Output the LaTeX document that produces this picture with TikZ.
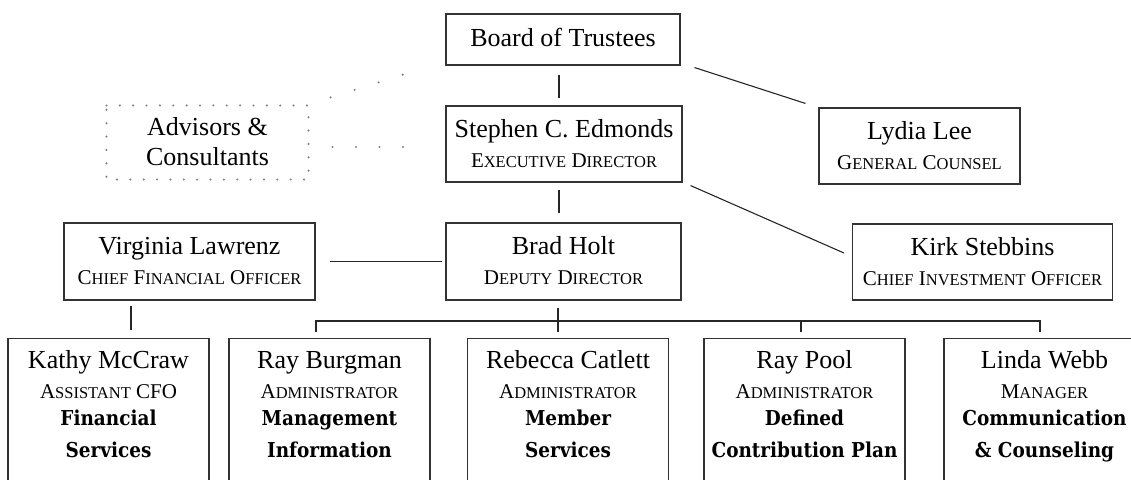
\documentclass[tikz,border=0pt]{standalone}
\usepackage{fontspec}
\setmainfont{Liberation Serif}
\newfontfamily\bff{DejaVu Serif Condensed Bold}
\newcommand\sm[1]{{\fontsize{16.5}{16.5}\selectfont #1}}
\newcommand\ttl{\fontsize{21}{21}\selectfont}
\newcommand\bld{\bff\fontsize{20.5}{20.5}\selectfont}
\begin{document}
\begin{tikzpicture}[x=1pt,y=-1pt,
  box/.style={draw=black!80, line width=1.1pt, inner sep=0pt, align=center,
    font=\fontsize{26}{30}\selectfont},
  onebox/.style={box, text height=18pt, text depth=5pt},
  twobox/.style={box, text height=48pt, text depth=2pt},
  lowbox/.style={box, anchor=north, minimum width=201pt, text height=119pt, text depth=30pt},
  conn/.style={draw=black!85, line width=1.1pt},
  dots/.style={draw=black!50, line width=2.3pt, line cap=round}]
\useasboundingbox (0,0) rectangle (1131,479);

\node[onebox, minimum width=234pt, minimum height=51pt] (board) at (563,39.5) {Board of Trustees};
\node[twobox, minimum width=236pt, minimum height=76pt] (steph) at (564,144)
  {Stephen C. Edmonds\\{\ttl E\sm{XECUTIVE} D\sm{IRECTOR}}};
\node[twobox, minimum width=201pt, minimum height=76pt] (lydia) at (919.5,146)
  {Lydia Lee\\{\ttl G\sm{ENERAL} C\sm{OUNSEL}}};
\node[twobox, draw=none, minimum width=201pt, minimum height=73pt] (adv) at (207.5,142.5)
  {Advisors \&\\Consultants};
\draw[dots, dash pattern=on 0pt off 13.366pt] (adv.north west) -- (adv.north east) -- (adv.south east) -- (adv.south west) -- cycle;

\node[twobox, minimum width=251pt, minimum height=77pt] (virg) at (189.5,261.5)
  {Virginia Lawrenz\\{\ttl C\sm{HIEF} F\sm{INANCIAL} O\sm{FFICER}}};
\node[twobox, minimum width=235pt, minimum height=77pt] (brad) at (563.5,261.5)
  {Brad Holt\\{\ttl D\sm{EPUTY} D\sm{IRECTOR}}};
\node[twobox, minimum width=260pt, minimum height=76pt] (kirk) at (982.5,262)
  {Kirk Stebbins\\{\ttl C\sm{HIEF} I\sm{NVESTMENT} O\sm{FFICER}}};

\node[lowbox] (kathy) at (108.5,338)
  {Kathy McCraw\\{\ttl A\sm{SSISTANT} CFO}\\[-3pt]{\bld Financial}\\[2pt]{\bld Services}};
\node[lowbox] (burg) at (329.5,338)
  {Ray Burgman\\{\ttl A\sm{DMINISTRATOR}}\\[-3pt]{\bld Management}\\[2pt]{\bld Information}};
\node[lowbox] (reb) at (568,338)
  {Rebecca Catlett\\{\ttl A\sm{DMINISTRATOR}}\\[-3pt]{\bld Member}\\[2pt]{\bld Services}};
\node[lowbox] (pool) at (804.5,338)
  {Ray Pool\\{\ttl A\sm{DMINISTRATOR}}\\[-3pt]{\bld Defined}\\[2pt]{\bld Contribution Plan}};
\node[lowbox] (linda) at (1044.5,338)
  {Linda Webb\\{\ttl M\sm{ANAGER}}\\[-3pt]{\bld Communication}\\[2pt]{\bld \& Counseling}};

% connectors
\draw[conn] ([xshift=-4pt,yshift=-9pt]board.south) -- ([xshift=-5pt,yshift=7pt]steph.north);
\draw[conn] ([xshift=14pt,yshift=-2pt]board.south east) -- ([xshift=-13pt,yshift=4pt]lydia.north west);
\draw[conn] ([xshift=-5pt,yshift=-7pt]steph.south) -- ([xshift=-4.5pt,yshift=9pt]brad.north);
\draw[conn] ([xshift=8pt,yshift=-3pt]steph.south east) -- ([xshift=-8pt,yshift=9pt]kirk.west);
\draw[conn] ([xshift=14pt]virg.east) -- ([xshift=-3pt]brad.west);
\draw[conn] ([xshift=-58.5pt,yshift=-5pt]virg.south) -- ([xshift=22.5pt,yshift=8pt]kathy.north);
\draw[conn] ([xshift=-5.5pt,yshift=-7pt]brad.south) -- ([xshift=-10pt,yshift=6pt]reb.north);
\draw[conn] ([xshift=-13.5pt,yshift=6pt]burg.north) -- ++(0,-11) -| ([xshift=-4.5pt,yshift=6pt]linda.north);
\draw[conn] ([xshift=-3.5pt,yshift=6pt]pool.north) -- ++(0,-11);

% dotted links
\draw[dots, dash pattern=on 0pt off 23.5pt] ([xshift=24pt,yshift=-4.5pt]adv.east) -- ([xshift=-20pt,yshift=-3pt]steph.west);
\draw[dots, dash pattern=on 0pt off 25.2pt] ([xshift=22pt,yshift=8pt]adv.north east) -- ([xshift=-20pt,yshift=-2pt]board.south west);
\end{tikzpicture}
\end{document}
